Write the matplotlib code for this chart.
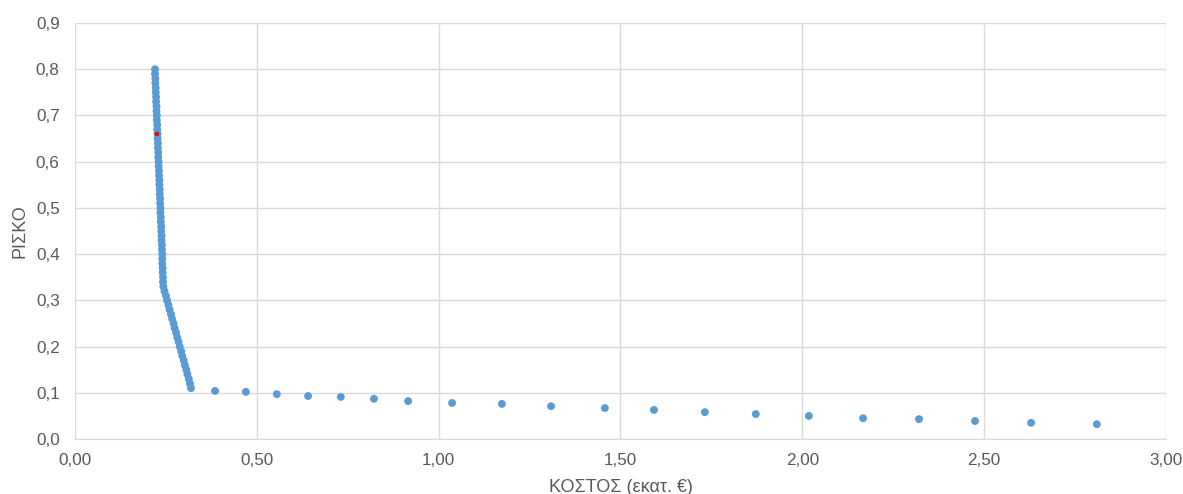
import matplotlib.pyplot as plt
from matplotlib.ticker import FuncFormatter

# dense part of the frontier (cost in million €, risk)
cost_dense = [0.220, 0.220, 0.221, 0.221, 0.222, 0.222, 0.223, 0.223, 0.224, 0.224,
              0.225, 0.225, 0.226, 0.226, 0.227, 0.227, 0.228, 0.228, 0.229, 0.229,
              0.230, 0.230, 0.231, 0.231, 0.232, 0.232, 0.233, 0.233, 0.234, 0.234,
              0.235, 0.235, 0.236, 0.236, 0.237, 0.237, 0.238, 0.238, 0.239, 0.239,
              0.240, 0.240, 0.240, 0.241, 0.241, 0.242, 0.242, 0.243,
              0.246, 0.250, 0.253, 0.257, 0.260, 0.264, 0.267, 0.271, 0.274, 0.278,
              0.281, 0.285, 0.288, 0.292, 0.295, 0.299, 0.302, 0.306, 0.309, 0.313,
              0.316, 0.319]
risk_dense = [0.80, 0.79, 0.78, 0.77, 0.76, 0.75, 0.74, 0.73, 0.72, 0.71,
              0.70, 0.69, 0.68, 0.67, 0.66, 0.65, 0.64, 0.63, 0.62, 0.61,
              0.60, 0.59, 0.58, 0.57, 0.56, 0.55, 0.54, 0.53, 0.52, 0.51,
              0.50, 0.49, 0.48, 0.47, 0.46, 0.45, 0.44, 0.43, 0.42, 0.41,
              0.40, 0.39, 0.38, 0.37, 0.36, 0.35, 0.34, 0.33,
              0.32, 0.31, 0.30, 0.29, 0.28, 0.27, 0.26, 0.25, 0.24, 0.23,
              0.22, 0.21, 0.20, 0.19, 0.18, 0.17, 0.16, 0.15, 0.14, 0.13,
              0.12, 0.11]

# sparse tail
cost_tail = [0.385, 0.470, 0.555, 0.641, 0.731, 0.822, 0.916, 1.037, 1.174, 1.309,
             1.457, 1.592, 1.732, 1.872, 2.018, 2.167, 2.321, 2.475, 2.629, 2.810]
risk_tail = [0.104, 0.102, 0.097, 0.093, 0.091, 0.087, 0.082, 0.078, 0.076, 0.071,
             0.067, 0.063, 0.058, 0.054, 0.050, 0.045, 0.043, 0.039, 0.035, 0.032]

# highlighted solution
cost_sel = [0.225]
risk_sel = [0.660]

plt.rcParams['font.family'] = ['Liberation Sans', 'DejaVu Sans']

fig = plt.figure(figsize=(11.83, 4.94), dpi=100)
ax = fig.add_axes([0.0634, 0.1113, 0.9222, 0.8421])

blue = '#5B9BD5'
ax.scatter(cost_dense + cost_tail, risk_dense + risk_tail, s=32, color=blue,
           edgecolors='none', zorder=3)
ax.scatter(cost_sel, risk_sel, s=11, color='#FF0000', edgecolors='none', zorder=4)

ax.set_xlim(0, 3.0)
ax.set_ylim(0, 0.9)
ax.set_xticks([0, 0.5, 1.0, 1.5, 2.0, 2.5, 3.0])
ax.set_yticks([i / 10 for i in range(10)])
ax.xaxis.set_major_formatter(FuncFormatter(lambda v, p: f'{v:.2f}'.replace('.', ',')))
ax.yaxis.set_major_formatter(FuncFormatter(lambda v, p: f'{v:.1f}'.replace('.', ',')))

ax.grid(True, color='#D9D9D9', linewidth=1)
ax.set_axisbelow(True)
for side in ['top', 'right', 'left']:
    ax.spines[side].set_visible(False)
ax.spines['bottom'].set_color('#D9D9D9')
ax.tick_params(length=0, labelsize=12.3, colors='#595959')
ax.tick_params(axis='x', pad=10)
ax.tick_params(axis='y', pad=11)

ax.set_xlabel('ΚΟΣΤΟΣ (εκατ. €)', fontsize=13, color='#595959', labelpad=8)
ax.set_ylabel('ΡΙΣΚΟ', fontsize=13, color='#595959', labelpad=5)

fig.savefig('out.png', dpi=100)
